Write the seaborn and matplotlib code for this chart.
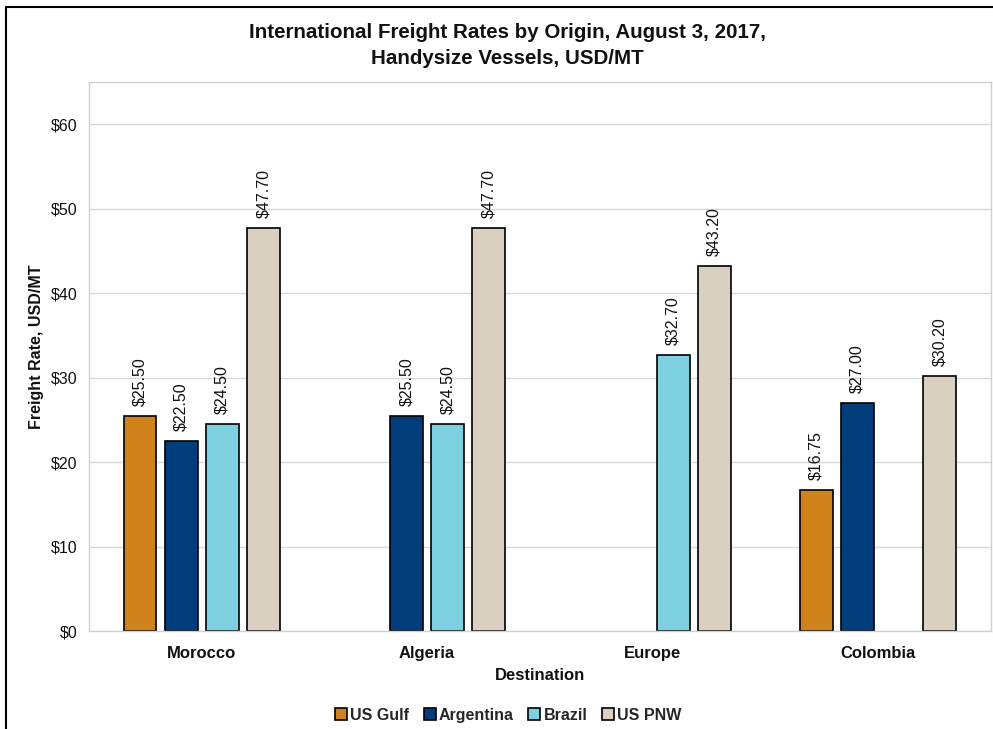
import numpy as np
import pandas as pd
import seaborn as sns
import matplotlib.pyplot as plt
from matplotlib.lines import Line2D

# data
destinations = ["Morocco", "Algeria", "Europe", "Colombia"]
origins = ["US Gulf", "Argentina", "Brazil", "US PNW"]
us_gulf = [25.50, np.nan, np.nan, 16.75]
argentina = [22.50, 25.50, np.nan, 27.00]
brazil = [24.50, 24.50, 32.70, np.nan]
us_pnw = [47.70, 47.70, 43.20, 30.20]
colors = ["#D0821C", "#003D7A", "#7ECFE0", "#D9D0C1"]

rows = []
for orig, vals in zip(origins, [us_gulf, argentina, brazil, us_pnw]):
    for dest, v in zip(destinations, vals):
        rows.append({"Destination": dest, "Origin": orig, "Rate": v})
df = pd.DataFrame(rows)

sns.set_theme(style="white")
plt.rcParams["font.family"] = ["Liberation Sans", "DejaVu Sans"]

fig = plt.figure(figsize=(9.93, 7.29), dpi=100)
ax = fig.add_axes([0.0896, 0.1344, 0.908, 0.7531])

sns.barplot(data=df, x="Destination", y="Rate", hue="Origin",
            order=destinations, hue_order=origins, palette=colors,
            width=0.73, gap=0.2, edgecolor="black", linewidth=1.2,
            saturation=1, errorbar=None, ax=ax, legend=True)

for cont in ax.containers:
    labels = ["" if np.isnan(v) else f"${v:.2f}" for v in cont.datavalues]
    ax.bar_label(cont, labels=labels, rotation=90, padding=7, fontsize=11.5,
                 color="#111111")

ax.set_ylim(0, 65)
ax.set_yticks(range(0, 61, 10))
ax.set_yticklabels([f"${t}" for t in range(0, 61, 10)], fontsize=11.5,
                   color="#111111")
ax.grid(axis="y", color="#d9d9d9", linewidth=1)
ax.set_axisbelow(True)
for s in ax.spines.values():
    s.set_color("#d0d0d0")
    s.set_linewidth(1)
ax.tick_params(axis="both", length=0, pad=8)
ax.set_xticks(range(len(destinations)))
ax.set_xticklabels(destinations, fontsize=12, fontweight="bold", color="#111111")
ax.tick_params(axis="x", pad=11)
ax.set_xlabel("Destination", fontsize=12, fontweight="bold", color="#111111",
              labelpad=5)
ax.set_ylabel("Freight Rate, USD/MT", fontsize=11.5, fontweight="bold",
              color="#111111")
ax.yaxis.set_label_coords(-0.05, 0.517)

handles, lbls = ax.get_legend_handles_labels()
ax.legend(handles, lbls, loc="center", bbox_to_anchor=(0.465, -0.153),
          ncol=4, frameon=False, handlelength=0.75, handleheight=0.75,
          handletextpad=0.2, columnspacing=0.9,
          prop={"size": 11.5, "weight": "bold"})

fig.text(0.511, 0.955, "International Freight Rates by Origin, August 3, 2017,",
         ha="center", va="center", fontsize=14.8, fontweight="bold",
         color="#111111")
fig.text(0.511, 0.920, "Handysize Vessels, USD/MT", ha="center", va="center",
         fontsize=14.8, fontweight="bold", color="#111111")

# outer chart frame
fig.add_artist(Line2D([0.006, 0.006], [0.0, 0.991], color="black", linewidth=1.5))
fig.add_artist(Line2D([0.006, 1.0], [0.991, 0.991], color="black", linewidth=1.5))

fig.savefig("out.png", dpi=100)
